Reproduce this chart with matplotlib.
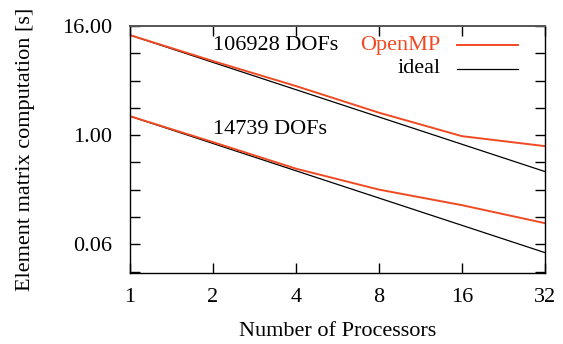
import numpy as np
import matplotlib
matplotlib.use("Agg")
import matplotlib.pyplot as plt
from matplotlib.ticker import FixedLocator, NullFormatter

# number of processors
procs = [1, 2, 4, 8, 16, 32]

# element matrix computation time [s]
omp_large = [12.7, 6.57, 3.48, 1.77, 0.975, 0.757]
omp_small = [1.62, 0.838, 0.427, 0.251, 0.169, 0.107]
ideal_large = [12.7 / p for p in procs]
ideal_small = [1.62 / p for p in procs]

y_major = [0.0625, 1.0, 16.0]
y_labels = ["0.06", "1.00", "16.00"]
x_labels = ["1", "2", "4", "8", "16", "32"]

red = "#f04a22"
fs = 16

plt.rcParams["font.family"] = ["Liberation Serif", "DejaVu Serif"]
plt.rcParams["font.size"] = fs

fig = plt.figure(figsize=(5.63, 3.44), dpi=100)
ax = fig.add_axes([0.2309, 0.2064, 0.968 - 0.2309, 0.9244 - 0.2064])

ax.plot(procs, ideal_large, color="black", lw=0.9)
ax.plot(procs, ideal_small, color="black", lw=0.9)
ax.plot(procs, omp_large, color=red, lw=1.4)
ax.plot(procs, omp_small, color=red, lw=1.4)

ax.set_xscale("log", base=2)
ax.set_yscale("log", base=2)
ax.set_xlim(1, 32)
ax.set_ylim(2 ** -5.05, 16)

ax.xaxis.set_major_locator(FixedLocator(procs))
ax.set_xticklabels(x_labels)
ax.xaxis.set_minor_locator(FixedLocator([]))
ax.yaxis.set_major_locator(FixedLocator(y_major))
ax.set_yticklabels(y_labels)
ax.yaxis.set_minor_locator(FixedLocator([2.0 ** k for k in range(-5, 5)]))
ax.yaxis.set_minor_formatter(NullFormatter())

ax.tick_params(which="both", direction="in", top=True, right=True,
               length=7, width=1, labelsize=fs)
ax.tick_params(axis="y", pad=13)
ax.tick_params(axis="x", pad=11)

for side in ["left", "bottom", "right"]:
    ax.spines[side].set_linewidth(1)
ax.spines["top"].set_color("#555555")
ax.spines["top"].set_linewidth(1.4)

ax.set_xlabel("Number of Processors", fontsize=fs, va="center")
ax.set_ylabel("Element matrix computation [s]", fontsize=fs, va="center")
ax.xaxis.set_label_coords(0.5, -0.238)
ax.yaxis.set_label_coords(-0.253, 0.5)

ax.text(2.0, 9.86, "106928 DOFs", fontsize=fs, ha="left", va="center")
ax.text(2.0, 1.15, "14739 DOFs", fontsize=fs, ha="left", va="center")

# legend drawn by hand like gnuplot's key
ax.text(0.749, 0.923, "OpenMP", color=red, fontsize=fs, ha="right", va="center",
        transform=ax.transAxes)
ax.plot([0.788, 0.935], [0.923, 0.923], color=red, lw=1.4, transform=ax.transAxes)
ax.text(0.749, 0.826, "ideal", color="black", fontsize=fs, ha="right", va="center",
        transform=ax.transAxes)
ax.plot([0.788, 0.935], [0.826, 0.826], color="black", lw=0.9, transform=ax.transAxes)

fig.savefig("out.png", dpi=100)
